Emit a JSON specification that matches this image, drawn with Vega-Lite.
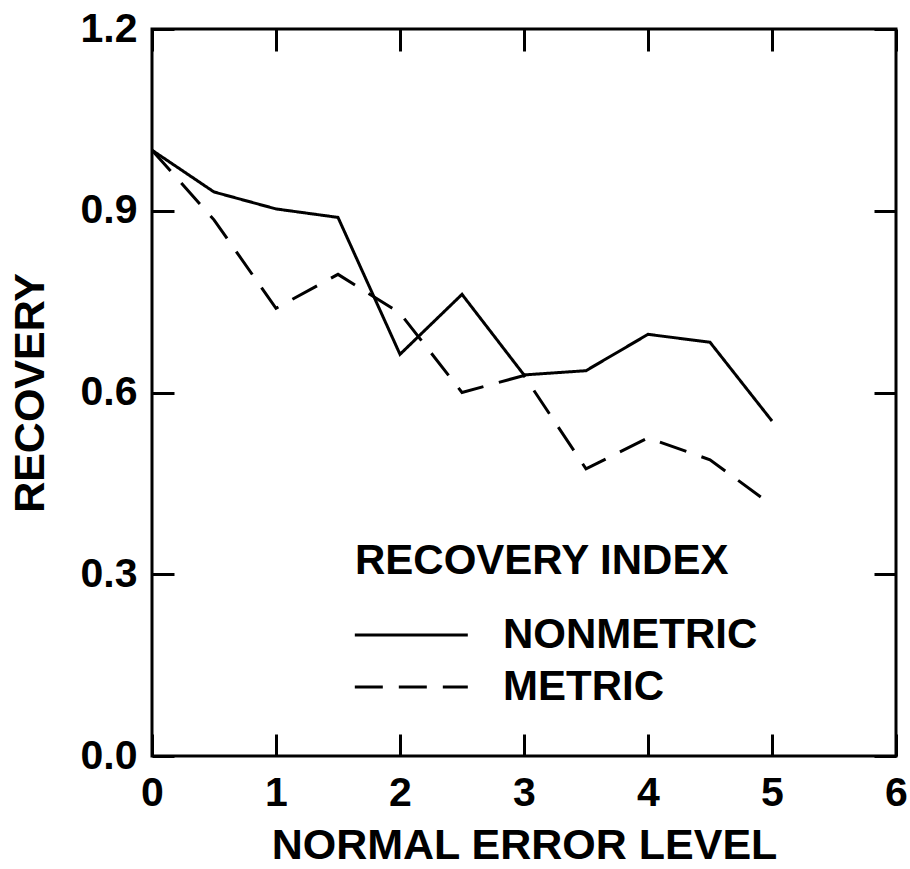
{
  "$schema": "https://vega.github.io/schema/vega-lite/v6.json",
  "width": 744,
  "height": 727,
  "autosize": {"type": "none"},
  "padding": {"left": 152, "top": 29, "right": 14, "bottom": 113},
  "background": "white",
  "config": {
    "font": "Liberation Sans",
    "view": {"stroke": "black", "strokeWidth": 3},
    "axis": {
      "domain": false,
      "grid": false,
      "ticks": true,
      "tickColor": "black",
      "tickWidth": 3,
      "tickSize": -22,
      "labelColor": "black",
      "labelFontSize": 41,
      "labelFontWeight": "bold",
      "labelFont": "Liberation Sans",
      "titleColor": "black",
      "titleFontSize": 43,
      "titleFont": "Liberation Sans",
      "titleFontWeight": "bold"
    }
  },
  "data": {
    "values": [
      {"level": 0, "recovery": 1.0, "index": "NONMETRIC"},
      {"level": 0.5, "recovery": 0.931, "index": "NONMETRIC"},
      {"level": 1, "recovery": 0.903, "index": "NONMETRIC"},
      {"level": 1.5, "recovery": 0.889, "index": "NONMETRIC"},
      {"level": 2, "recovery": 0.663, "index": "NONMETRIC"},
      {"level": 2.5, "recovery": 0.762, "index": "NONMETRIC"},
      {"level": 3, "recovery": 0.629, "index": "NONMETRIC"},
      {"level": 3.5, "recovery": 0.636, "index": "NONMETRIC"},
      {"level": 4, "recovery": 0.696, "index": "NONMETRIC"},
      {"level": 4.5, "recovery": 0.683, "index": "NONMETRIC"},
      {"level": 5, "recovery": 0.553, "index": "NONMETRIC"},
      {"level": 0, "recovery": 1.0, "index": "METRIC"},
      {"level": 0.5, "recovery": 0.885, "index": "METRIC"},
      {"level": 1, "recovery": 0.739, "index": "METRIC"},
      {"level": 1.5, "recovery": 0.795, "index": "METRIC"},
      {"level": 2, "recovery": 0.731, "index": "METRIC"},
      {"level": 2.5, "recovery": 0.6, "index": "METRIC"},
      {"level": 3, "recovery": 0.628, "index": "METRIC"},
      {"level": 3.5, "recovery": 0.474, "index": "METRIC"},
      {"level": 4, "recovery": 0.525, "index": "METRIC"},
      {"level": 4.5, "recovery": 0.489, "index": "METRIC"},
      {"level": 5, "recovery": 0.414, "index": "METRIC"}
    ]
  },
  "layer": [
    {
      "mark": {"type": "line", "color": "black", "strokeWidth": 3, "strokeJoin": "miter"},
      "encoding": {
        "x": {
          "field": "level",
          "type": "quantitative",
          "scale": {"domain": [0, 6], "nice": false},
          "axis": {
            "orient": "bottom",
            "values": [0, 1, 2, 3, 4, 5, 6],
            "format": "d",
            "labelPadding": 39,
            "labelFlush": false,
            "title": "NORMAL ERROR LEVEL",
            "titlePadding": 11
          }
        },
        "y": {
          "field": "recovery",
          "type": "quantitative",
          "scale": {"domain": [0, 1.2], "nice": false},
          "axis": {
            "orient": "left",
            "values": [0, 0.3, 0.6, 0.9, 1.2],
            "format": ".1f",
            "labelPadding": 37,
            "labelFlush": false,
            "title": "RECOVERY",
            "titlePadding": 28
          }
        },
        "strokeDash": {
          "field": "index",
          "type": "nominal",
          "scale": {"domain": ["NONMETRIC", "METRIC"], "range": [[1, 0], [28, 16]]},
          "legend": {
            "orient": "none",
            "legendX": 203,
            "legendY": 512,
            "padding": 0,
            "title": "RECOVERY INDEX",
            "titleFont": "Liberation Sans",
            "titleFontSize": 42,
            "titleFontWeight": "bold",
            "titleColor": "black",
            "titlePadding": 31,
            "titleLimit": 0,
            "labelFont": "Liberation Sans",
            "labelFontSize": 42,
            "labelFontWeight": "bold",
            "labelColor": "black",
            "labelOffset": 106,
            "labelLimit": 0,
            "symbolType": "M-1.5,0H6.5",
            "symbolSize": 798,
            "symbolStrokeWidth": 3,
            "symbolStrokeColor": "black",
            "symbolFillColor": "black",
            "rowPadding": 10
          }
        }
      }
    },
    {
      "mark": {"type": "point", "opacity": 0},
      "encoding": {
        "x": {
          "field": "level",
          "type": "quantitative",
          "axis": {"orient": "top", "values": [0, 1, 2, 3, 4, 5, 6], "labels": false, "title": null}
        },
        "y": {
          "field": "recovery",
          "type": "quantitative",
          "axis": {"orient": "right", "values": [0, 0.3, 0.6, 0.9, 1.2], "labels": false, "title": null}
        }
      }
    }
  ],
  "resolve": {"axis": {"x": "independent", "y": "independent"}}
}
